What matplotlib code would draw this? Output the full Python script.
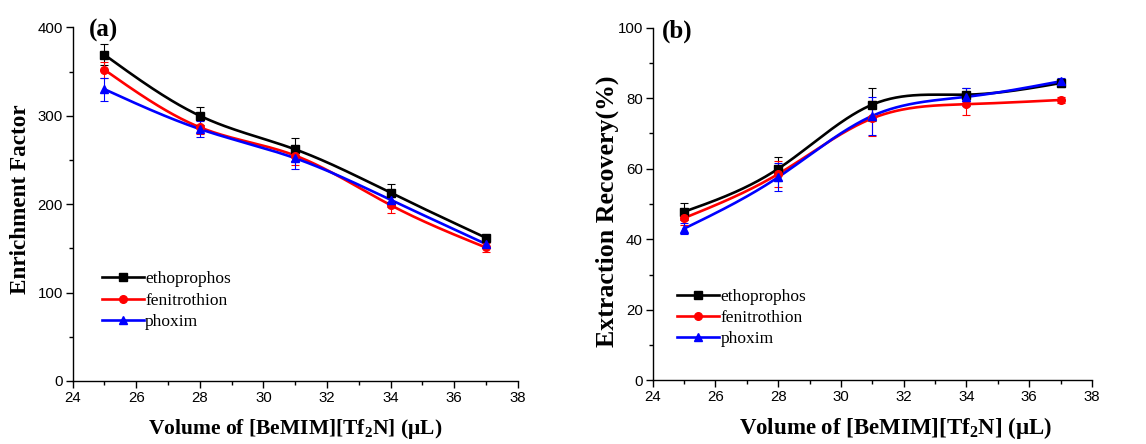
import numpy as np
import matplotlib
matplotlib.use("Agg")
import matplotlib.pyplot as plt
from matplotlib.lines import Line2D
from matplotlib.ticker import MultipleLocator

# volumes (µL)
volume = [25, 28, 31, 34, 37]
compounds = ["ethoprophos", "fenitrothion", "phoxim"]

# (a) enrichment factor
ef_etho = [369, 300, 262, 213, 162]
ef_feni = [352, 287, 255, 199, 151]
ef_phox = [330, 285, 252, 205, 155]
ef_etho_err = [12, 10, 13, 10, 3]
ef_feni_err = [9, 8, 11, 9, 5]
ef_phox_err = [13, 9, 12, 8, 4]

# (b) extraction recovery (%)
er_etho = [47.8, 60.0, 78.2, 81.0, 84.3]
er_feni = [46.0, 58.5, 74.3, 78.3, 79.5]
er_phox = [43.0, 57.6, 75.0, 80.4, 84.8]
er_etho_err = [2.4, 3.4, 4.8, 1.8, 1.0]
er_feni_err = [2.0, 3.8, 5.0, 3.0, 0.8]
er_phox_err = [1.5, 4.0, 5.3, 2.6, 1.0]

COLORS = ["black", "#ff0000", "#0000ff"]
MARKERS = ["s", "o", "^"]

plt.rcParams["font.family"] = ["Liberation Sans", "DejaVu Sans"]
plt.rcParams["mathtext.fontset"] = "custom"
plt.rcParams["mathtext.rm"] = "Liberation Serif"
plt.rcParams["mathtext.bf"] = "Liberation Serif:bold"
SERIF = ["Liberation Serif", "DejaVu Serif"]


def natural_spline(x, y, n=200):
    """natural cubic spline through the points (like Origin's spline connect)"""
    x = np.asarray(x, float)
    y = np.asarray(y, float)
    k = len(x)
    h = np.diff(x)
    A = np.zeros((k, k))
    b = np.zeros(k)
    A[0, 0] = A[-1, -1] = 1
    for i in range(1, k - 1):
        A[i, i - 1] = h[i - 1]
        A[i, i] = 2 * (h[i - 1] + h[i])
        A[i, i + 1] = h[i]
        b[i] = 6 * ((y[i + 1] - y[i]) / h[i] - (y[i] - y[i - 1]) / h[i - 1])
    M = np.linalg.solve(A, b)
    xs = np.linspace(x[0], x[-1], n)
    ys = np.empty_like(xs)
    for j, xv in enumerate(xs):
        i = min(np.searchsorted(x, xv, side="right") - 1, k - 2)
        t0 = x[i + 1] - xv
        t1 = xv - x[i]
        ys[j] = (M[i] * t0**3 + M[i + 1] * t1**3) / (6 * h[i]) \
            + (y[i] / h[i] - M[i] * h[i] / 6) * t0 \
            + (y[i + 1] / h[i] - M[i + 1] * h[i] / 6) * t1
    return xs, ys


def draw_panel(ax, series, errors, ylim, ymajor, yminor, ylabel, tag, tag_x,
               legend_anchor, xlab_size, xlab_x, ylab_size, ylab_pos):
    for vals, errs, c, m in zip(series, errors, COLORS, MARKERS):
        xs, ys = natural_spline(volume, vals)
        ax.plot(xs, ys, color=c, lw=1.9, zorder=2)
        ax.errorbar(volume, vals, yerr=errs, fmt=m, color=c, ms=5.5,
                    elinewidth=0.8, capsize=3, capthick=0.8, zorder=3)

    ax.set_xlim(24, 38)
    ax.set_ylim(*ylim)
    ax.xaxis.set_major_locator(MultipleLocator(2))
    ax.xaxis.set_minor_locator(MultipleLocator(1))
    ax.yaxis.set_major_locator(MultipleLocator(ymajor))
    ax.yaxis.set_minor_locator(MultipleLocator(yminor))
    ax.spines["top"].set_visible(False)
    ax.spines["right"].set_visible(False)
    for s in ("left", "bottom"):
        ax.spines[s].set_linewidth(1.0)
    ax.tick_params(which="major", direction="out", length=5, width=1.0, labelsize=10.8, pad=2)
    ax.tick_params(which="minor", direction="out", length=3, width=1.0)

    ax.set_xlabel("Volume of [BeMIM][Tf$_\\mathbf{2}$N] (μL)", fontsize=xlab_size,
                  fontweight="bold", family=SERIF)
    ax.xaxis.label.set_verticalalignment("center")
    ax.xaxis.set_label_coords(xlab_x, -0.135)
    ax.set_ylabel(ylabel, fontsize=ylab_size, fontweight="bold", family=SERIF)
    ax.yaxis.label.set_verticalalignment("center")
    ax.yaxis.set_label_coords(*ylab_pos)
    ax.text(tag_x, 0.99, tag, transform=ax.transAxes, fontsize=18,
            fontweight="bold", family=SERIF, va="center", ha="left")

    handles = [Line2D([], [], color=c, marker=m, lw=1.9, ms=5.5)
               for c, m in zip(COLORS, MARKERS)]
    ax.legend(handles, compounds, loc="upper left", bbox_to_anchor=legend_anchor,
              frameon=False, handlelength=2.4, handletextpad=0.1, labelspacing=0.3,
              borderaxespad=0, prop={"family": SERIF, "size": 12.5})


fig = plt.figure(figsize=(11.46, 4.44), dpi=100)
ax1 = fig.add_axes([0.0634, 0.1419, 0.3883, 0.7965])
ax2 = fig.add_axes([0.5695, 0.1435, 0.3834, 0.7941])

draw_panel(ax1, [ef_etho, ef_feni, ef_phox], [ef_etho_err, ef_feni_err, ef_phox_err],
           (0, 400), 100, 50, "Enrichment Factor", "(a)", 0.037, (0.05, 0.33),
           15.5, 0.5, 16.7, (-0.118, 0.515))
draw_panel(ax2, [er_etho, er_feni, er_phox], [er_etho_err, er_feni_err, er_phox_err],
           (0, 100), 20, 10, "Extraction Recovery(%)", "(b)", 0.02, (0.04, 0.28),
           16.5, 0.552, 18.6, (-0.104, 0.48))

fig.savefig("out.png", dpi=100)
